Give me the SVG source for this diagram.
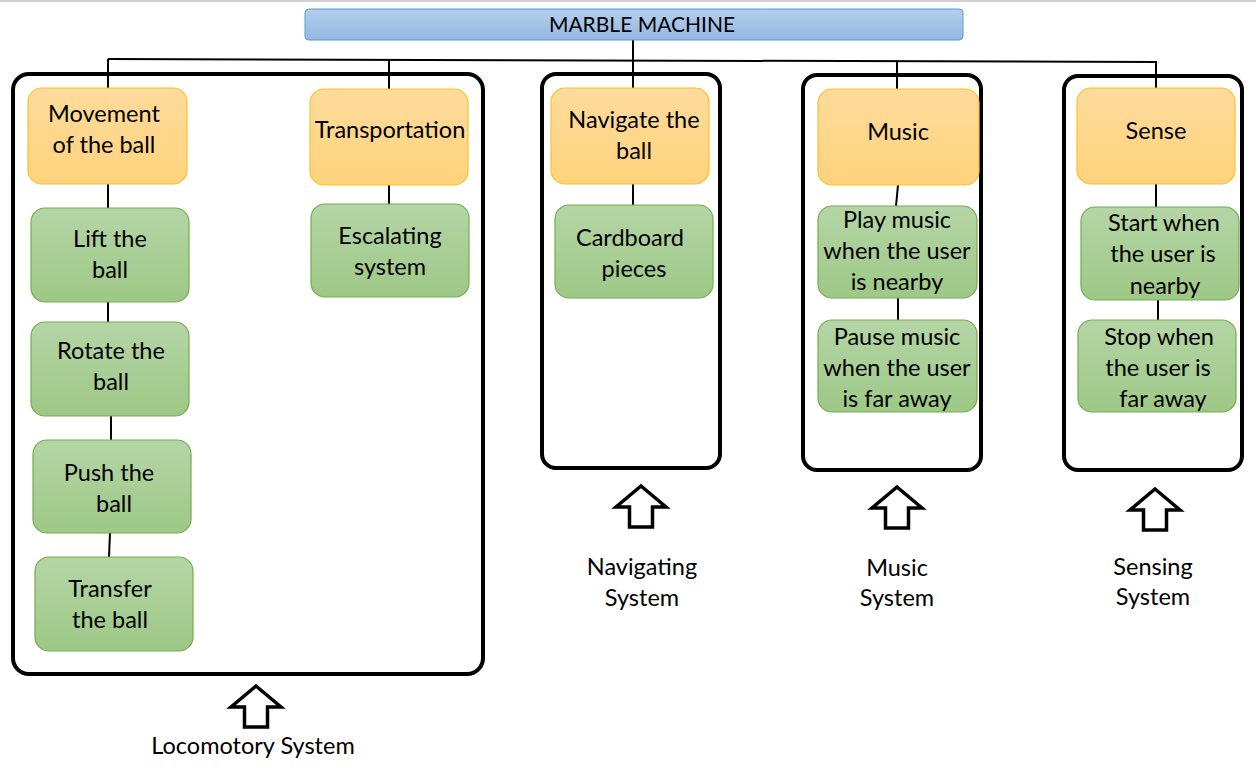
<svg xmlns="http://www.w3.org/2000/svg" width="1256" height="770" viewBox="0 0 1256 770">
<defs>
<linearGradient id="gBlue" x1="0" y1="0" x2="0" y2="1"><stop offset="0" stop-color="#b4cfeb"/><stop offset="1" stop-color="#93b8e2"/></linearGradient>
<linearGradient id="gOrange" x1="0" y1="0" x2="0" y2="1"><stop offset="0" stop-color="#fedb9c"/><stop offset="1" stop-color="#fed37c"/></linearGradient>
<linearGradient id="gGreen" x1="0" y1="0" x2="0" y2="1"><stop offset="0" stop-color="#b5d5a6"/><stop offset="1" stop-color="#9dc886"/></linearGradient>
<path id="upArrow" d="M0,0 L25,21 L11.5,21 L11.5,41 L-11.5,41 L-11.5,21 L-25,21 Z"/>
</defs>
<style>
text{font-family:Lato,"Open Sans","Liberation Sans",sans-serif;font-size:23.5px;fill:#000;text-anchor:middle}
text.title{font-size:21px}
.top{fill:url(#gBlue);stroke:#5b9bd5;stroke-width:1}
.or{fill:url(#gOrange);stroke:#fbc02d;stroke-width:1.2}
.gr{fill:url(#gGreen);stroke:#74ad4f;stroke-width:1.2}
.box{fill:none;stroke:#000;stroke-width:4}
.ln{stroke:#000;stroke-width:2;fill:none}
.arr{fill:#fff;stroke:#000;stroke-width:3.5;stroke-linejoin:miter}
</style>
<rect width="1256" height="770" fill="#fff"/>
<line x1="0" y1="1" x2="1256" y2="1" stroke="#d0d0d0" stroke-width="2"/>

<g id="containers">
<rect class="box" x="13" y="74" width="470" height="600" rx="16"/>
<rect class="box" x="542" y="74" width="178" height="394" rx="14"/>
<rect class="box" x="803" y="75" width="178" height="395" rx="14"/>
<rect class="box" x="1064" y="76" width="178" height="394" rx="14"/>
</g>

<g id="connectors">
<path class="ln" d="M108,59 L1157,62"/>
<path class="ln" d="M633,40 L633,88"/>
<path class="ln" d="M108,59 L108,88"/>
<path class="ln" d="M389,60 L389,89"/>
<path class="ln" d="M897,61 L897,89"/>
<path class="ln" d="M1156,62 L1156,88"/>
<path class="ln" d="M108,184 L108,208"/>
<path class="ln" d="M108,302 L108,322"/>
<path class="ln" d="M111,416 L111,440"/>
<path class="ln" d="M110,533 L109,557"/>
<path class="ln" d="M389,185 L389,204"/>
<path class="ln" d="M633,184 L633,205"/>
<path class="ln" d="M898,185 L896,206"/>
<path class="ln" d="M898,298 L898,320"/>
<path class="ln" d="M1156,184 L1156,207"/>
<path class="ln" d="M1158,300 L1158,320"/>
</g>

<g id="marble-machine">
<rect class="top" x="305" y="9" width="658" height="31" rx="4"/>
<text class="title" x="642" y="32">MARBLE MACHINE</text>
</g>

<g id="movement">
<rect class="or" x="28" y="88" width="159" height="96" rx="14"/>
<text x="104" y="122">Movement</text><text x="104" y="153">of the ball</text>
</g>
<g id="transportation">
<rect class="or" x="310" y="89" width="158" height="96" rx="14"/>
<text x="390" y="138">Transportation</text>
</g>
<g id="navigate">
<rect class="or" x="551" y="88" width="158" height="96" rx="14"/>
<text x="634" y="128">Navigate the</text><text x="634" y="159">ball</text>
</g>
<g id="music">
<rect class="or" x="818" y="89" width="161" height="96" rx="14"/>
<text x="898" y="140">Music</text>
</g>
<g id="sense">
<rect class="or" x="1077" y="88" width="158" height="96" rx="14"/>
<text x="1156" y="139">Sense</text>
</g>

<g id="lift">
<rect class="gr" x="31" y="208" width="158" height="94" rx="14"/>
<text x="110" y="247">Lift the</text><text x="110" y="278">ball</text>
</g>
<g id="rotate">
<rect class="gr" x="31" y="322" width="158" height="94" rx="14"/>
<text x="111" y="359">Rotate the</text><text x="111" y="390">ball</text>
</g>
<g id="push">
<rect class="gr" x="33" y="440" width="158" height="93" rx="14"/>
<text x="109" y="481">Push the</text><text x="114" y="512">ball</text>
</g>
<g id="transfer">
<rect class="gr" x="35" y="557" width="158" height="94" rx="14"/>
<text x="110" y="597">Transfer</text><text x="110" y="628">the ball</text>
</g>
<g id="escalating">
<rect class="gr" x="311" y="204" width="158" height="93" rx="14"/>
<text x="390" y="244">Escalating</text><text x="390" y="275">system</text>
</g>
<g id="cardboard">
<rect class="gr" x="555" y="205" width="158" height="93" rx="14"/>
<text x="630" y="246">Cardboard</text><text x="634" y="277">pieces</text>
</g>
<g id="play-music">
<rect class="gr" x="818" y="206" width="159" height="92" rx="14"/>
<text x="897" y="228">Play music</text><text x="897" y="259">when the user</text><text x="897" y="290">is nearby</text>
</g>
<g id="pause-music">
<rect class="gr" x="818" y="320" width="159" height="92" rx="14"/>
<text x="897" y="345">Pause music</text><text x="897" y="376">when the user</text><text x="897" y="407">is far away</text>
</g>
<g id="start">
<rect class="gr" x="1081" y="207" width="158" height="93" rx="14"/>
<text x="1164" y="231">Start when</text><text x="1163" y="262">the user is</text><text x="1165" y="294">nearby</text>
</g>
<g id="stop">
<rect class="gr" x="1078" y="320" width="158" height="92" rx="14"/>
<text x="1159" y="345">Stop when</text><text x="1158" y="376">the user is</text><text x="1163" y="407">far away</text>
</g>

<g id="locomotory-system">
<use href="#upArrow" class="arr" x="256" y="686"/>
<text x="253" y="754">Locomotory System</text>
</g>
<g id="navigating-system">
<use href="#upArrow" class="arr" x="641" y="486"/>
<text x="642" y="575">Navigating</text><text x="642" y="606">System</text>
</g>
<g id="music-system">
<use href="#upArrow" class="arr" x="897" y="487"/>
<text x="897" y="576">Music</text><text x="897" y="606">System</text>
</g>
<g id="sensing-system">
<use href="#upArrow" class="arr" x="1155" y="489"/>
<text x="1153" y="575">Sensing</text><text x="1153" y="605">System</text>
</g>
</svg>
